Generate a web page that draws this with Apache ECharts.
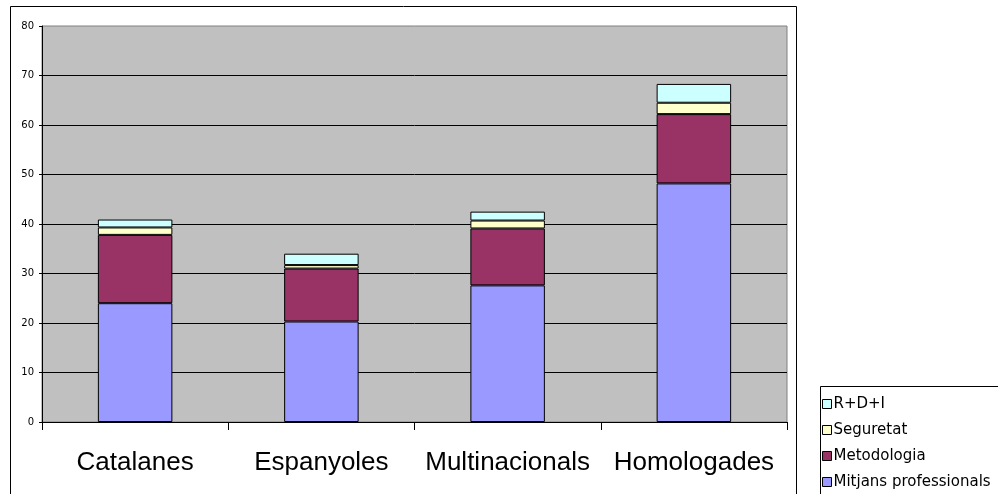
<!DOCTYPE html>
<html>
<head>
<meta charset="utf-8">
<script src="https://cdn.jsdelivr.net/npm/echarts@6/dist/echarts.min.js"></script>
<style>html,body{margin:0;padding:0;background:#fff;}#c{width:998px;height:494px;}</style>
</head>
<body>
<div id="c"></div>
<script>
var categories = ['Catalanes', 'Espanyoles', 'Multinacionals', 'Homologades'];
var mitjans = [24.0, 20.3, 27.6, 48.2];
var metodologia = [13.8, 10.7, 11.5, 14.0];
var seguretat = [1.5, 0.7, 1.6, 2.3];
var rdi = [1.6, 2.3, 1.8, 3.8];
var seriesNames = ['Mitjans professionals', 'Metodologia', 'Seguretat', 'R+D+I'];
var legendOrder = ['R+D+I', 'Seguretat', 'Metodologia', 'Mitjans professionals'];
var seriesColors = ['#9999FF', '#993366', '#FFFFCC', '#CCFFFF'];
var seriesData = [mitjans, metodologia, seguretat, rdi];

var chart = echarts.init(document.getElementById('c'), null, {renderer: 'canvas'});
var series = seriesNames.map(function (n, i) {
  return {
    name: n,
    type: 'bar',
    stack: 'total',
    barWidth: '40%',
    data: seriesData[i],
    itemStyle: {color: seriesColors[i], borderColor: '#000', borderWidth: 1}
  };
});
chart.setOption({
  animation: false,
  backgroundColor: '#fff',
  graphic: [{
    type: 'rect', z: -1,
    shape: {x: 10.5, y: 6.5, width: 786, height: 520},
    style: {fill: 'none', stroke: '#000', lineWidth: 1}
  }, {
    type: 'rect', z: -1,
    shape: {x: 820.5, y: 386.5, width: 200, height: 140},
    style: {fill: '#fff', stroke: '#000', lineWidth: 1}
  }],
  grid: {
    left: 42, right: 211, top: 26, bottom: 72,
    show: true, backgroundColor: '#C0C0C0', borderColor: '#808080', borderWidth: 1
  },
  legend: {
    orient: 'vertical',
    left: 820, top: 386,
    data: legendOrder,
    icon: 'rect',
    itemWidth: 9, itemHeight: 9,
    itemGap: 10,
    padding: [10, 0, 0, 2],
    itemStyle: {borderColor: '#000', borderWidth: 1},
    textStyle: {fontFamily: 'DejaVu Sans', fontSize: 15, color: '#000', lineHeight: 16, padding: [0, 0, 0, -3]}
  },
  xAxis: {
    type: 'category',
    data: categories,
    axisLine: {lineStyle: {color: '#000', width: 1}},
    axisTick: {show: true, length: 8, interval: 0, alignWithLabel: false, lineStyle: {color: '#000'}},
    axisLabel: {interval: 0, fontFamily: 'Liberation Sans', fontSize: 26, color: '#000', margin: 28}
  },
  yAxis: {
    type: 'value',
    min: 0, max: 80, interval: 10,
    axisLine: {show: true, lineStyle: {color: '#000', width: 1}},
    axisTick: {show: true, length: 3, lineStyle: {color: '#000'}},
    axisLabel: {fontFamily: 'DejaVu Sans', fontSize: 10, color: '#000', margin: 8},
    splitLine: {show: true, showMaxLine: false, lineStyle: {color: '#000', width: 1}}
  },
  series: series
});
</script>
</body>
</html>
